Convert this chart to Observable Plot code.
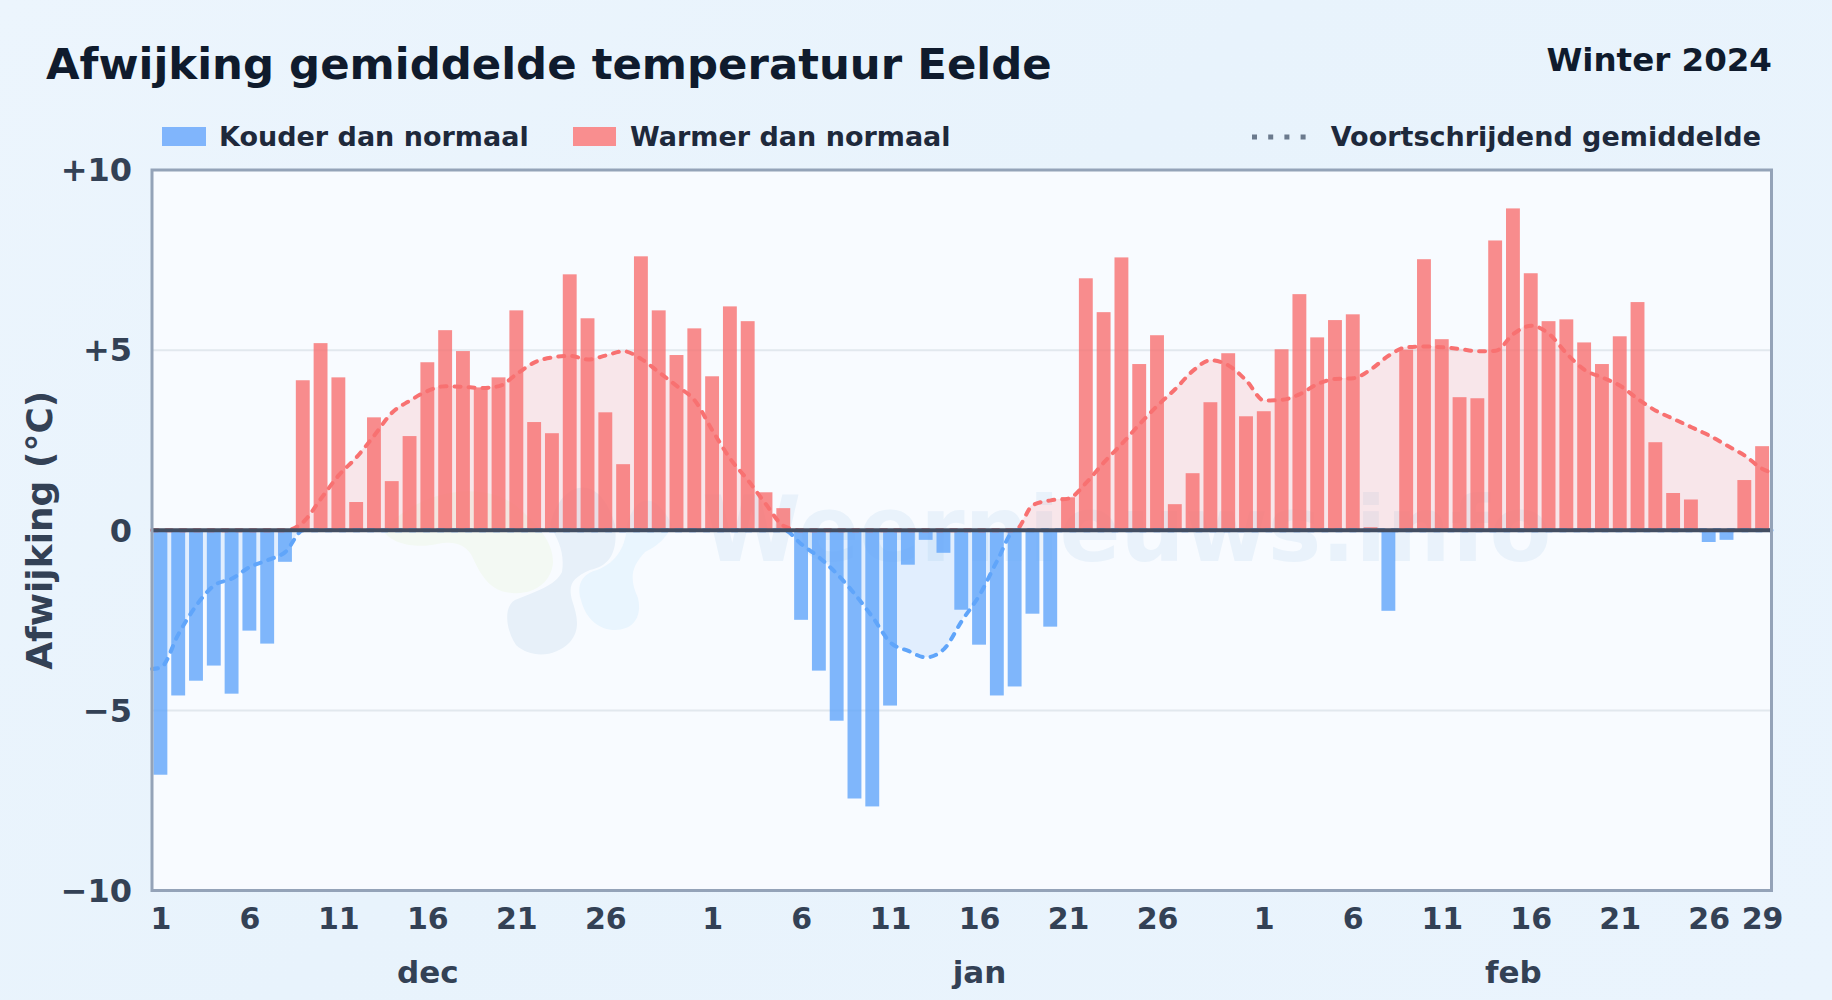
<!DOCTYPE html>
<html lang="nl">
<head>
<meta charset="utf-8">
<title>Afwijking gemiddelde temperatuur Eelde</title>
<script src="https://cdn.jsdelivr.net/npm/d3@7"></script>
<script src="https://cdn.jsdelivr.net/npm/@observablehq/plot@0.6"></script>
<style>
  html, body { margin: 0; padding: 0; }
  body {
    width: 1832px; height: 1000px; overflow: hidden; position: relative;
    background: linear-gradient(135deg, #ecf5fd 0%, #e8f3fc 45%, #eaf4fd 100%);
    font-family: "DejaVu Sans", sans-serif; font-weight: 700;
  }
  .abs { position: absolute; white-space: nowrap; line-height: 1; }
  #title { left: 46px; top: 43px; font-size: 43.4px; color: #0f1b2d; }
  #season { right: 60px; top: 44px; font-size: 32.5px; color: #0f1b2d; }
  .lg { top: 123px; font-size: 27px; color: #1e293b; }
  .sw { position: absolute; top: 127px; height: 19px; }
</style>
</head>
<body>
<div class="abs" id="title">Afwijking gemiddelde temperatuur Eelde</div>
<div class="abs" id="season">Winter 2024</div>
<div class="sw" style="left:162px;width:44px;background:#80b5fc"></div>
<div class="abs lg" style="left:219px">Kouder dan normaal</div>
<div class="sw" style="left:573px;width:43px;background:#f98e8f"></div>
<div class="abs lg" style="left:630px">Warmer dan normaal</div>
<svg class="abs" style="left:1250px;top:130px" width="60" height="14"><line x1="2" x2="58" y1="7" y2="7" stroke="#6b7a8d" stroke-width="5" stroke-dasharray="5 11.2"/></svg>
<div class="abs lg" style="right:71px">Voortschrijdend gemiddelde</div>
<script>
const decValues = [-6.8,-4.6,-4.19,-3.77,-4.55,-2.8,-3.16,-0.89,4.15,5.18,4.23,0.77,3.12,1.35,2.6,4.65,5.54,4.96,3.95,4.23,6.09,2.99,2.68,7.09,5.87,3.26,1.82,7.59,6.09,4.85,5.59];
const janValues = [4.26,6.2,5.79,1.04,0.6,-2.5,-3.91,-5.3,-7.46,-7.68,-4.88,-0.97,-0.28,-0.64,-2.22,-3.19,-4.6,-4.35,-2.33,-2.69,0.9,6.98,6.04,7.56,4.6,5.4,0.71,1.57,3.54,4.9,3.15];
const febValues = [3.29,5.01,6.54,5.34,5.82,5.98,0.07,-2.25,5.0,7.51,5.29,3.68,3.65,8.03,8.92,7.12,5.79,5.84,5.2,4.6,5.37,6.32,2.43,1.02,0.84,-0.34,-0.28,1.38,2.32];

const decSmooth = [-3.81,-2.87,-2.08,-1.53,-1.34,-1.02,-0.83,-0.6,0.23,0.88,1.53,2.03,2.64,3.27,3.6,3.87,4.0,3.98,3.95,4.0,4.34,4.66,4.8,4.84,4.74,4.85,4.97,4.75,4.38,4.0,3.6];
const janSmooth = [2.76,1.98,1.38,0.72,0.12,-0.39,-0.76,-1.22,-1.78,-2.42,-3.12,-3.35,-3.53,-3.3,-2.52,-1.8,-0.84,0.0,0.7,0.83,0.88,1.32,1.89,2.4,2.95,3.46,3.92,4.43,4.72,4.57,4.15];
const febSmooth = [3.6,3.62,3.78,4.06,4.2,4.22,4.47,4.85,5.08,5.1,5.08,5.03,4.97,4.98,5.45,5.68,5.45,4.9,4.45,4.24,4.01,3.64,3.32,3.09,2.86,2.63,2.35,2.07,1.7];
const smoothStart = -3.85, smoothEnd = 1.6;

const yTicks = [-10,-5,0,5,10];
const yLabels = ["\u221210","\u22125","0","+5","+10"];
const decDays = [1,6,11,16,21,26];
const janDays = [1,6,11,16,21,26];
const febDays = [1,6,11,16,21,26,29];
const months = ["dec","jan","feb"];
const legendWatermark = ["Weernieuws.info"];

const lengths = [decValues.length, janValues.length, febValues.length];
const total = d3.sum(lengths);
const offsets = [0, lengths[0], lengths[0] + lengths[1]];
const deviations = [...decValues, ...janValues, ...febValues];
const smooth = [...decSmooth, ...janSmooth, ...febSmooth];

const bars = deviations.map((v, i) => ({x1: i + 0.11, x2: i + 0.89, v}));
const curve = [{x: 0, v: smoothStart}, ...smooth.map((v, i) => ({x: i + 0.5, v})), {x: total, v: smoothEnd}];

const dayTicks = [decDays, janDays, febDays].flatMap((days, m) => days.map(d => ({pos: offsets[m] + d - 0.5, label: String(d)})));
const dayLabel = new Map(dayTicks.map(t => [t.pos, t.label]));
const monthTicks = months.map((name, m) => ({pos: offsets[m] + lengths[m] / 2, label: name}));
const monthLabel = new Map(monthTicks.map(t => [t.pos, t.label]));
const yLabel = new Map(yTicks.map((t, i) => [t, yLabels[i]]));

// faint logo behind the chart
function logo() {
  const g = d3.create("svg:g");
  const blobs = [
    ["#f3f9f3", "M383,530 C392,546 420,548 437,544 C455,540 466,545 472,556 C480,574 490,592 512,593 C534,595 552,582 553,562 C553,540 535,522 515,505 C480,480 420,490 383,530 Z"],
    ["#e7f0f9", "M550,525 C558,540 565,552 562,572 C556,585 535,592 515,600 C503,607 506,630 516,645 C530,658 555,658 570,642 C580,630 578,618 572,600 C568,585 572,578 590,570 C610,566 618,552 615,525 C600,470 560,480 550,525 Z"],
    ["#e9f5fe", "M627,525 C626,545 618,562 597,570 C582,574 576,585 581,600 C586,620 600,630 615,630 C635,630 642,615 638,598 C630,580 630,568 645,552 C660,545 668,535 672,525 C655,490 635,495 627,525 Z"]
  ];
  for (const [fill, d] of blobs) g.append("path").attr("d", d).attr("fill", fill).attr("transform", "translate(0,-150)");
  return g.node();
}

const chart = Plot.plot({
  width: 1832, height: 850,
  marginTop: 19.5, marginBottom: 110, marginLeft: 151.5, marginRight: 61,
  style: {background: "transparent", fontFamily: "'DejaVu Sans', sans-serif", overflow: "visible", position: "absolute", left: "0px", top: "150px"},
  x: {type: "linear", domain: [0, total], label: null},
  y: {domain: [-10, 10], label: null},
  marks: [
    Plot.frame({fill: "#f8fbff", stroke: "none"}),
    logo,
    Plot.text(legendWatermark, {text: d => d, frameAnchor: "middle", dx: 165, dy: 2, fontSize: 90, fontWeight: 700, fill: "#e9f2fb"}),
    Plot.ruleY([-5, 5], {stroke: "#e2e8ee", strokeWidth: 2}),
    Plot.areaY(curve, {x: "x", y1: 0, y2: d => Math.max(d.v, 0), curve: "monotone-x", fill: "#f87171", fillOpacity: 0.15}),
    Plot.areaY(curve, {x: "x", y1: 0, y2: d => Math.min(d.v, 0), curve: "monotone-x", fill: "#60a5fa", fillOpacity: 0.15}),
    Plot.rectY(bars.filter(d => d.v >= 0), {x1: "x1", x2: "x2", y1: 0, y2: "v", fill: "#f87171", fillOpacity: 0.8}),
    Plot.rectY(bars.filter(d => d.v < 0), {x1: "x1", x2: "x2", y1: 0, y2: "v", fill: "#60a5fa", fillOpacity: 0.8}),
    Plot.line(curve, {x: "x", y: d => Math.max(d.v, 0), curve: "monotone-x", stroke: "#f87171", strokeWidth: 4, strokeDasharray: "6 8", strokeLinecap: "round"}),
    Plot.line(curve, {x: "x", y: d => Math.min(d.v, 0), curve: "monotone-x", stroke: "#60a5fa", strokeWidth: 4, strokeDasharray: "6 8", strokeLinecap: "round"}),
    Plot.ruleY([0], {stroke: "#434e62", strokeWidth: 4}),
    Plot.frame({stroke: "#94a3b8", strokeWidth: 3}),
    Plot.axisY({ticks: yTicks, tickFormat: d => yLabel.get(d), tickSize: 0, tickPadding: 20, fontSize: 32, fontWeight: 700, fill: "#334155", label: null, marginLeft: 151.5, dy: 1}),
    Plot.axisX({ticks: dayTicks.map(t => t.pos), tickFormat: d => dayLabel.get(d), tickSize: 0, tickPadding: 17, fontSize: 30, fontWeight: 700, fill: "#334155", label: null, marginBottom: 110}),
    Plot.axisX({ticks: monthTicks.map(t => t.pos), tickFormat: d => monthLabel.get(d), tickSize: 0, tickPadding: 70, fontSize: 31, fontWeight: 700, fill: "#334155", label: null, marginBottom: 110}),
    Plot.text(["Afwijking (\u00b0C)"], {text: d => d, frameAnchor: "left", textAnchor: "middle", rotate: -90, dx: -112, fontSize: 36, fontWeight: 700, fill: "#334155"})
  ]
});
document.body.appendChild(chart);
</script>
</body>
</html>
